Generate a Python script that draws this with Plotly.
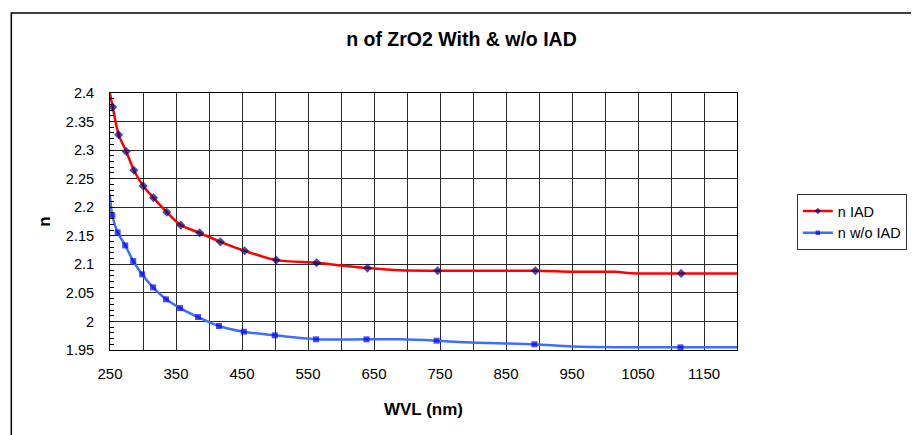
import plotly.graph_objects as go

# ---- data ----
# n IAD: points that carry markers
iad_x = [254.1, 263.1, 274.6, 286.2, 300.3, 316.0, 336.1, 357.2, 385.9, 417.2,
         453.9, 501.8, 563.1, 640.1, 746.4, 894.5, 1115.4]
iad_y = [2.3755, 2.327, 2.2975, 2.2648, 2.2373, 2.2164, 2.1913, 2.1686, 2.1551, 2.1394,
         2.1237, 2.1074, 2.1027, 2.0934, 2.0887, 2.0887, 2.0841]
# n IAD: extra points of the drawn curve (no marker)
iad_line_x = [249.0, 600.0, 690.0, 950.0, 1015.0, 1040.0, 1200.0]
iad_line_y = [2.405, 2.098, 2.0895, 2.0870, 2.0868, 2.0843, 2.0841]

# n w/o IAD: points that carry markers
wo_x = [253.5, 261.6, 273.1, 285.2, 298.8, 315.4, 335.0, 356.2, 383.4, 415.1,
        452.8, 499.7, 562.2, 638.6, 744.9, 893.0, 1114.4]
wo_y = [2.1856, 2.1558, 2.1331, 2.1057, 2.0824, 2.0596, 2.0387, 2.0234, 2.0077, 1.992,
        1.982, 1.9757, 1.9687, 1.9687, 1.9663, 1.960, 1.9547]
# n w/o IAD: extra points of the drawn curve (no marker)
wo_line_x = [249.5, 690.0, 790.0, 950.0, 1045.0, 1200.0]
wo_line_y = [2.224, 1.9687, 1.9634, 1.9562, 1.9548, 1.9547]

x_tick_start = 250
x_range = [250, 1200]
y_range = [1.95, 2.4]


def merge(mx, my, lx, ly, msize):
    pts = [(x, y, msize) for x, y in zip(mx, my)] + [(x, y, 0) for x, y in zip(lx, ly)]
    pts.sort(key=lambda p: p[0])
    return [p[0] for p in pts], [p[1] for p in pts], [p[2] for p in pts]


ax, ay, asz = merge(iad_x, iad_y, iad_line_x, iad_line_y, 7)
bx, by, bsz = merge(wo_x, wo_y, wo_line_x, wo_line_y, 6)

fig = go.Figure()
fig.add_trace(go.Scatter(
    x=ax, y=ay, name="n IAD", mode="lines+markers",
    line=dict(color="#FF0000", width=2.5, shape="spline", smoothing=0.8),
    marker=dict(symbol="diamond", color="#000080", size=asz, line=dict(width=0)),
))
fig.add_trace(go.Scatter(
    x=bx, y=by, name="n w/o IAD", mode="lines+markers",
    line=dict(color="#3D6EFF", width=2.5, shape="spline", smoothing=0.8),
    marker=dict(symbol="square", color="#0000FF", size=bsz, line=dict(width=0)),
))

# page body adds an 8px margin; work in screenshot pixels and shift
OFF = 8
W, H = 919 - OFF, 435 - OFF
L, T = 110 - OFF, 93 - OFF
R = W - (739 - OFF)
B = H - (350 - OFF)
pw, ph = W - L - R, H - T - B

def px_x(p):
    return (p - OFF - L) / pw

def px_y(p):
    return (H - B - (p - OFF)) / ph

fig.update_layout(
    width=W, height=H,
    margin=dict(l=L, r=R, t=T, b=B, pad=0),
    paper_bgcolor="white", plot_bgcolor="white",
    font=dict(family="Liberation Sans, Arial, sans-serif", color="black", size=15),
    title=dict(text="<b>n of ZrO2 With &amp; w/o IAD</b>", x=(461.5 - OFF) / W, y=1 - (39.5 - OFF) / H,
               xref="container", yref="container", xanchor="center", yanchor="middle",
               font=dict(size=19.5, color="black")),
    showlegend=True,
    legend=dict(x=px_x(799), y=px_y(194), xanchor="left", yanchor="top",
                bordercolor="#333333", borderwidth=1, bgcolor="white",
                font=dict(size=14.5), tracegroupgap=0, itemwidth=30),
    xaxis=dict(
        range=x_range, tick0=x_tick_start, dtick=100, ticks="",
        showgrid=True, gridcolor="#2a2a2a", gridwidth=1,
        minor=dict(dtick=50, tick0=x_tick_start, showgrid=True, gridcolor="#2a2a2a", gridwidth=1),
        showline=True, linecolor="black", linewidth=1, mirror=True,
        zeroline=False, ticklabelstandoff=10,
        tickfont=dict(size=15),
        title=dict(text="<b>WVL (nm)</b>", font=dict(size=17), standoff=22),
    ),
    yaxis=dict(
        range=y_range, dtick=0.05, tick0=1.95, ticks="inside", ticklen=4, tickcolor="black",
        showgrid=True, gridcolor="#2a2a2a", gridwidth=1,
        minor=dict(dtick=0.01, tick0=1.95, ticks="inside", ticklen=4, tickcolor="black", showgrid=False),
        showline=True, linecolor="black", linewidth=1, mirror=True,
        zeroline=False, ticklabelstandoff=12,
        tickfont=dict(size=14.5),
        title=dict(text="<b>n</b>", font=dict(size=17), standoff=10),
    ),
)

# chart-area border
fig.add_shape(type="rect", xref="paper", yref="paper",
              x0=px_x(11), x1=px_x(916), y0=px_y(440), y1=px_y(13),
              line=dict(color="black", width=1.5), fillcolor="rgba(0,0,0,0)", layer="below")

fig.write_html("out.html")
